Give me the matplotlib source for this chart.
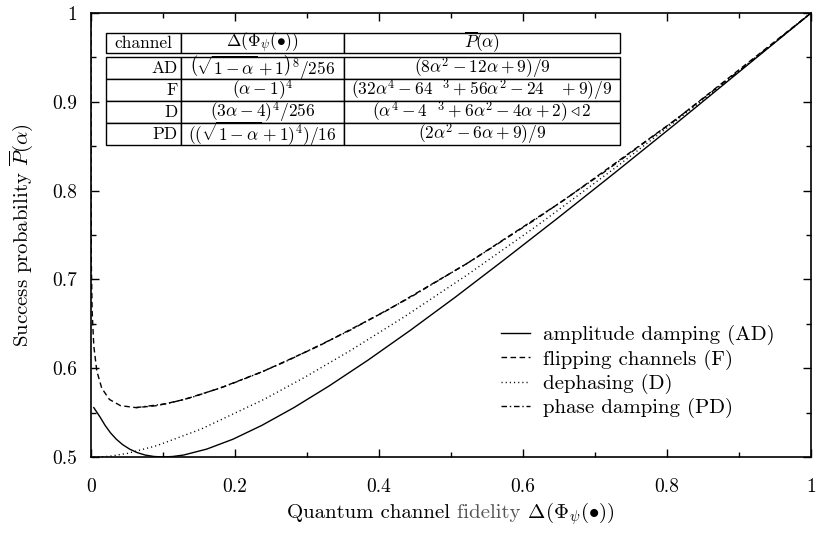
import numpy as np
import matplotlib
matplotlib.use("Agg")
import matplotlib.pyplot as plt
from matplotlib.ticker import MultipleLocator, FormatStrFormatter

plt.rcParams['font.family'] = 'serif'
plt.rcParams['font.serif'] = ['cmr10', 'DejaVu Serif']
plt.rcParams['mathtext.fontset'] = 'cm'
plt.rcParams['axes.formatter.use_mathtext'] = True

# curves: fidelity (x) vs success probability (y)
ad_x = [0.0039, 0.0126, 0.0196, 0.0271, 0.0352, 0.0440, 0.0536, 0.0640, 0.0752,
        0.0872, 0.1000, 0.1139, 0.1286, 0.1608, 0.1971, 0.2373, 0.2818, 0.3307,
        0.3844, 0.4427, 0.5060, 0.5740, 0.6480, 0.7274, 0.8126, 0.9030, 1.0]
ad_y = [0.5556, 0.5450, 0.5356, 0.5272, 0.5200, 0.5139, 0.5089, 0.5050, 0.5022,
        0.5006, 0.5000, 0.5006, 0.5022, 0.5089, 0.5200, 0.5356, 0.5556, 0.5800,
        0.6089, 0.6422, 0.6800, 0.7222, 0.7689, 0.8200, 0.8756, 0.9356, 1.0]

f_x = [0.0, 0.0000002, 0.0000063, 0.0001, 0.0005, 0.0016, 0.0039, 0.0081, 0.0150,
       0.0256, 0.0410, 0.0625, 0.0915, 0.1296, 0.1785, 0.2401, 0.3164, 0.4096,
       0.5220, 0.6561, 0.8145, 1.0]
f_y = [1.0, 0.9490, 0.8814, 0.7888, 0.7178, 0.6644, 0.6250, 0.5968, 0.5774,
       0.5648, 0.5578, 0.5556, 0.5578, 0.5648, 0.5774, 0.5968, 0.6250, 0.6644,
       0.7178, 0.7888, 0.8814, 1.0]

d_x = [0.0039, 0.0112, 0.0256, 0.0509, 0.0915, 0.1526, 0.2401, 0.2958, 0.3607,
       0.4358, 0.5220, 0.6204, 0.7321, 0.8583, 1.0]
d_y = [0.5000, 0.5001, 0.5008, 0.5041, 0.5128, 0.5313, 0.5648, 0.5893, 0.6201,
       0.6582, 0.7048, 0.7610, 0.8281, 0.9073, 1.0]

pd_x = [0.0625, 0.1061, 0.1401, 0.1876, 0.2315, 0.2742, 0.3586, 0.4439, 0.5308,
        0.6199, 0.7113, 0.8050, 0.9013, 1.0]
pd_y = [0.5556, 0.5601, 0.5672, 0.5800, 0.5939, 0.6089, 0.6422, 0.6800, 0.7222,
        0.7689, 0.8200, 0.8756, 0.9356, 1.0]

labels = ['amplitude damping (AD)', 'flipping channels (F)',
          'dephasing (D)', 'phase damping (PD)']

table_header = ['channel', r'$\Delta(\Phi_\psi(\bullet))$', r'$\overline{P}(\alpha)$']
table_rows = [
    ['AD', r'$\left(\sqrt{1-\alpha}+1\right)^8/256$', r'$(8\alpha^2-12\alpha+9)/9$'],
    ['F', r'$(\alpha-1)^4$', r'$(32\alpha^4-64\ \ {}^3+56\alpha^2-24\ \ \ +9)/9$'],
    ['D', r'$(3\alpha-4)^4/256$', r'$(\alpha^4-4\ \ {}^3+6\alpha^2-4\alpha+2)\triangleleft 2$'],
    ['PD', r'$((\sqrt{1-\alpha}+1)^4)/16$', r'$(2\alpha^2-6\alpha+9)/9$'],
]

fig = plt.figure(figsize=(8.16, 5.33), dpi=100)
ax = fig.add_axes([0.1115, 0.1426, 0.8824, 0.833])

ax.plot(ad_x, ad_y, color='black', lw=1.0, ls='-', label=labels[0])
ax.plot(f_x, f_y, color='black', lw=1.0, ls=(0, (4, 2.5)), label=labels[1])
ax.plot(d_x, d_y, color='black', lw=1.0, ls=(0, (0.8, 2.2)), label=labels[2])
ax.plot(pd_x, pd_y, color='black', lw=1.0, ls=(0, (4, 2, 1, 2)), label=labels[3])

ax.set_xlim(0, 1)
ax.set_ylim(0.5, 1)
ax.xaxis.set_major_locator(MultipleLocator(0.2))
ax.xaxis.set_minor_locator(MultipleLocator(0.1))
ax.yaxis.set_major_locator(MultipleLocator(0.1))
ax.yaxis.set_minor_locator(MultipleLocator(0.05))
ax.xaxis.set_major_formatter(FormatStrFormatter('%g'))
ax.yaxis.set_major_formatter(FormatStrFormatter('%g'))
ax.tick_params(which='both', direction='in', top=True, right=True, labelsize=14)
ax.tick_params(which='major', length=6, width=1)
ax.tick_params(which='minor', length=3.5, width=1)
ax.tick_params(axis='x', pad=15)
ax.tick_params(axis='y', pad=10)
for sp in ax.spines.values():
    sp.set_linewidth(1.2)

ax.set_ylabel(r'Success probability $\overline{P}(\alpha)$', fontsize=15, labelpad=12)

leg = ax.legend(loc='lower right', bbox_to_anchor=(0.975, 0.045), frameon=False,
                fontsize=15, handlelength=1.4, handletextpad=0.6, labelspacing=0.2)

# table in the upper left corner
tx, tw = 0.0208, 0.714
col_w = [0.146, 0.317, 0.537]
hdr = ax.table(cellText=[table_header[:2] + ['']], colWidths=col_w, cellLoc='center',
               bbox=[tx, 0.910, tw, 0.045])
body = ax.table(cellText=table_rows, colWidths=col_w, cellLoc='center',
                bbox=[tx, 0.703, tw, 0.198])
for t in (hdr, body):
    t.auto_set_font_size(False)
    t.set_fontsize(12.5)
    for (r, c), cell in t.get_celld().items():
        cell.set_linewidth(1.0)
        cell.set_edgecolor('black')
        cell.PAD = 0.04
for r in range(len(table_rows)):
    body[r, 0]._loc = 'right'
    body[r, 0].get_text().set_ha('right')
ax.text(tx + tw * (col_w[0] + col_w[1] + col_w[2] / 2), 0.9325, table_header[2],
        transform=ax.transAxes, ha='center', va='center', fontsize=12.5)

# x label with a grey word in the middle, centred under the axes
parts = [('Quantum channel', 'black'), (' fidelity', '#555555'),
         (r' $\Delta(\Phi_\psi(\bullet))$', 'black')]
fig.canvas.draw()
rend = fig.canvas.get_renderer()
txts = []
x0 = 0.0
for s, c in parts:
    t = fig.text(x0, 0.028, s, color=c, fontsize=15, ha='left', va='baseline')
    bb = t.get_window_extent(renderer=rend)
    x0 = bb.x1 / fig.bbox.width
    txts.append(t)
total = x0
axbb = ax.get_position()
start = (axbb.x0 + axbb.x1) / 2 - total / 2
x0 = start
for t in txts:
    t.set_x(x0)
    bb = t.get_window_extent(renderer=rend)
    x0 = bb.x1 / fig.bbox.width

fig.savefig('out.png', dpi=100)
